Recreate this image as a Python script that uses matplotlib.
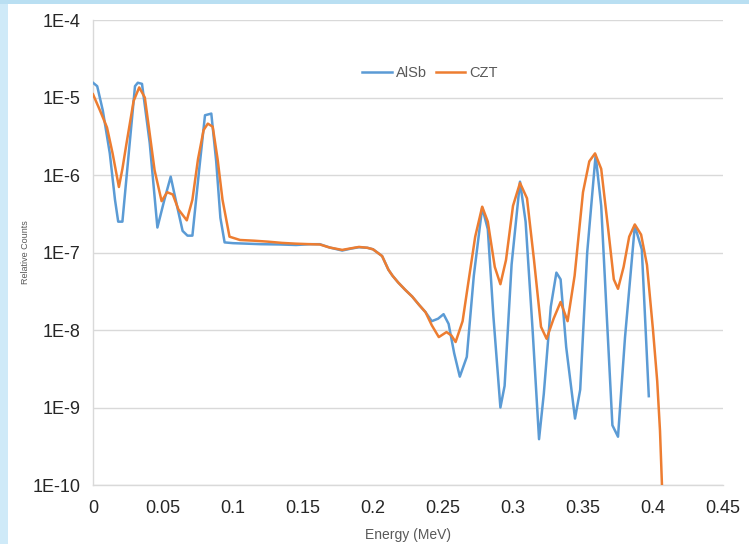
import matplotlib
matplotlib.use("Agg")
import matplotlib.pyplot as plt
from matplotlib.patches import Rectangle
from matplotlib import font_manager as fm

# ---------------- data ----------------
alsb_e = [0.000, 0.003, 0.007, 0.012, 0.0157, 0.018, 0.021, 0.025, 0.030, 0.032,
          0.035, 0.0405, 0.046, 0.051, 0.0555, 0.060, 0.064, 0.0675, 0.071, 0.076,
          0.080, 0.0845, 0.088, 0.091, 0.094, 0.100, 0.110, 0.120, 0.133, 0.145,
          0.155, 0.162, 0.169, 0.178, 0.184, 0.190, 0.196, 0.200, 0.2065, 0.211,
          0.214, 0.218, 0.223, 0.228, 0.233, 0.2375, 0.242, 0.2465, 0.2504, 0.254,
          0.258, 0.262, 0.267, 0.272, 0.278, 0.282, 0.286, 0.291, 0.294, 0.299,
          0.305, 0.309, 0.314, 0.3186, 0.322, 0.327, 0.331, 0.334, 0.338, 0.3443,
          0.348, 0.353, 0.359, 0.363, 0.367, 0.371, 0.375, 0.380, 0.387, 0.392, 0.397]
alsb_c = [1.55e-5, 1.4e-5, 6.8e-6, 1.9e-6, 4.8e-7, 2.5e-7, 2.5e-7, 1.5e-6, 1.4e-5, 1.55e-5,
          1.5e-5, 2.6e-6, 2.1e-7, 4.8e-7, 9.5e-7, 4.0e-7, 1.9e-7, 1.65e-7, 1.65e-7, 1.25e-6,
          5.9e-6, 6.2e-6, 1.5e-6, 2.8e-7, 1.35e-7, 1.32e-7, 1.30e-7, 1.28e-7, 1.27e-7, 1.25e-7,
          1.28e-7, 1.28e-7, 1.16e-7, 1.06e-7, 1.12e-7, 1.17e-7, 1.15e-7, 1.1e-7, 9.0e-8, 6.0e-8,
          5.0e-8, 4.1e-8, 3.3e-8, 2.7e-8, 2.1e-8, 1.7e-8, 1.3e-8, 1.4e-8, 1.6e-8, 1.2e-8,
          5.0e-9, 2.5e-9, 4.5e-9, 5.0e-8, 3.8e-7, 2.0e-7, 1.5e-8, 1.0e-9, 1.9e-9, 7.0e-8,
          8.2e-7, 2.5e-7, 1.0e-8, 3.9e-10, 1.5e-9, 2.0e-8, 5.5e-8, 4.5e-8, 6.0e-9, 7.2e-10,
          1.7e-9, 1.0e-7, 1.8e-6, 4.0e-7, 1.5e-8, 5.9e-10, 4.2e-10, 8.0e-9, 2.2e-7, 1.1e-7, 1.4e-9]

czt_e = [0.000, 0.005, 0.010, 0.014, 0.0185, 0.021, 0.024, 0.029, 0.033, 0.037,
         0.040, 0.044, 0.049, 0.053, 0.057, 0.061, 0.067, 0.071, 0.075, 0.079,
         0.082, 0.0855, 0.089, 0.0925, 0.0975, 0.105, 0.115, 0.125, 0.135, 0.145,
         0.155, 0.162, 0.169, 0.178, 0.184, 0.190, 0.196, 0.200, 0.2065, 0.211,
         0.214, 0.218, 0.223, 0.228, 0.233, 0.2375, 0.242, 0.247, 0.2525, 0.256,
         0.259, 0.264, 0.268, 0.273, 0.278, 0.282, 0.287, 0.291, 0.295, 0.300,
         0.305, 0.310, 0.315, 0.320, 0.324, 0.329, 0.334, 0.339, 0.344, 0.350,
         0.3545, 0.3586, 0.363, 0.368, 0.372, 0.375, 0.379, 0.383, 0.387, 0.3915,
         0.3957, 0.400, 0.403, 0.405, 0.4064]
czt_c = [1.1e-5, 6.8e-6, 4.1e-6, 1.9e-6, 7.0e-7, 1.2e-6, 2.6e-6, 9.0e-6, 1.35e-5, 1.0e-5,
         4.0e-6, 1.15e-6, 4.6e-7, 6.0e-7, 5.6e-7, 3.6e-7, 2.6e-7, 4.8e-7, 1.6e-6, 3.8e-6,
         4.6e-6, 4.2e-6, 1.6e-6, 4.8e-7, 1.6e-7, 1.45e-7, 1.42e-7, 1.38e-7, 1.33e-7, 1.30e-7,
         1.28e-7, 1.27e-7, 1.16e-7, 1.08e-7, 1.13e-7, 1.18e-7, 1.15e-7, 1.1e-7, 9.0e-8, 6.0e-8,
         5.0e-8, 4.1e-8, 3.3e-8, 2.7e-8, 2.1e-8, 1.7e-8, 1.15e-8, 8.1e-9, 9.4e-9, 8.5e-9,
         7.0e-9, 1.3e-8, 4.0e-8, 1.6e-7, 3.9e-7, 2.5e-7, 6.5e-8, 3.9e-8, 8.0e-8, 4.0e-7,
         7.9e-7, 5.0e-7, 8.0e-8, 1.1e-8, 7.7e-9, 1.4e-8, 2.3e-8, 1.3e-8, 5.0e-8, 6.0e-7,
         1.5e-6, 1.9e-6, 1.2e-6, 2.0e-7, 4.5e-8, 3.4e-8, 6.5e-8, 1.6e-7, 2.3e-7, 1.7e-7,
         6.9e-8, 1.0e-8, 2.2e-9, 5.0e-10, 1.0e-10]

x_ticks = [0, 0.05, 0.1, 0.15, 0.2, 0.25, 0.3, 0.35, 0.4, 0.45]
x_tick_labels = ["0", "0.05", "0.1", "0.15", "0.2", "0.25", "0.3", "0.35", "0.4", "0.45"]
y_ticks = [1e-10, 1e-9, 1e-8, 1e-7, 1e-6, 1e-5, 1e-4]
y_tick_labels = ["1E-10", "1E-9", "1E-8", "1E-7", "1E-6", "1E-5", "1E-4"]

# ---------------- style ----------------
names = {f.name for f in fm.fontManager.ttflist}
narrow = "Liberation Sans Narrow" if "Liberation Sans Narrow" in names else "Liberation Sans"
plt.rcParams['font.family'] = [narrow, 'DejaVu Sans']

BLUE = "#5b9bd5"
ORANGE = "#ed7d31"
GRID = "#d9d9d9"

fig = plt.figure(figsize=(7.49, 5.44), dpi=100)
fig.patch.set_facecolor("white")

# light blue frame strips (left and top)
fig.add_artist(Rectangle((0, 0), 8 / 749, 1, transform=fig.transFigure,
                         facecolor="#cfeaf8", edgecolor="none", zorder=0))
fig.add_artist(Rectangle((0, 1 - 4 / 544), 1, 4 / 544, transform=fig.transFigure,
                         facecolor="#b9dff2", edgecolor="none", zorder=0))

ax = fig.add_axes([93 / 749, 1 - 485 / 544, (723 - 93) / 749, (485 - 20) / 544])
ax.set_facecolor("white")

ax.plot(alsb_e, alsb_c, color=BLUE, lw=1.8, label="AlSb", zorder=3)
ax.plot(czt_e, czt_c, color=ORANGE, lw=1.8, label="CZT", zorder=4)

ax.set_yscale("log")
ax.set_xlim(0, 0.45)
ax.set_ylim(1e-10, 1e-4)
ax.set_xticks(x_ticks)
ax.set_xticklabels(x_tick_labels)
ax.set_yticks(y_ticks)
ax.set_yticklabels(y_tick_labels)
ax.yaxis.set_minor_locator(matplotlib.ticker.NullLocator())
ax.tick_params(axis="both", length=0, labelsize=13, colors="#262626")
ax.tick_params(axis="y", pad=9)
ax.tick_params(axis="x", pad=11)

ax.grid(axis="y", color=GRID, lw=1.0)
ax.grid(axis="x", visible=False)
for s in ["top", "right"]:
    ax.spines[s].set_visible(False)
ax.spines["left"].set_color(GRID)
ax.spines["bottom"].set_color(GRID)
ax.spines["left"].set_linewidth(1.0)
ax.spines["bottom"].set_linewidth(1.0)

ax.set_xlabel("Energy (MeV)", fontsize=10, color="#595959", labelpad=8)
ax.set_ylabel("Relative Counts", fontsize=6.5, color="#595959")
ax.yaxis.set_label_coords(-0.1, 0.5)

leg = ax.legend(loc="upper center", bbox_to_anchor=(0.535, 0.93), ncol=2, frameon=False,
                fontsize=10.5, handlelength=2.0, columnspacing=0.6, handletextpad=0.3)
for t in leg.get_texts():
    t.set_color("#595959")

fig.savefig("out.png", dpi=100)
